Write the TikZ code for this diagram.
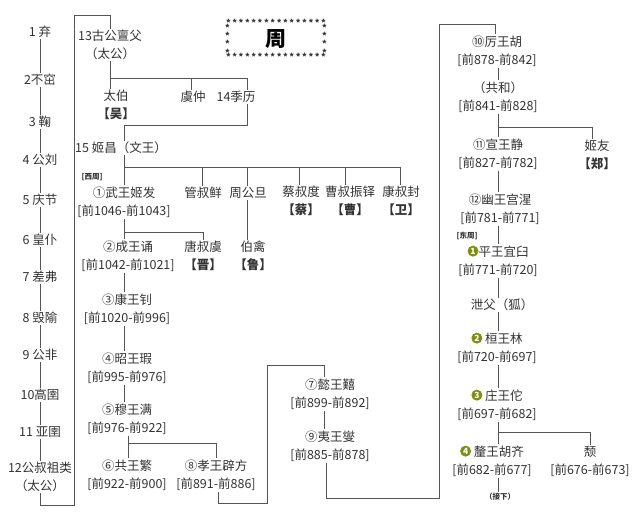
\documentclass[tikz,border=0pt]{standalone}
\usepackage{fontspec}
\setmainfont{Noto Sans CJK SC}
\definecolor{txt}{HTML}{333333}
\definecolor{ln}{HTML}{555555}
\definecolor{gcol}{HTML}{7F8F12}
\newcommand\nl{\\\relax}
\newcommand\gc[1]{\tikz[baseline=-0.75ex]\node[circle,fill=gcol,text=white,inner sep=0.6pt,minimum size=11pt,font=\bfseries\fontsize{8.5}{8.5}\selectfont]{#1};}
\newcommand\starrow{\hbox to 100pt{*\hfill*\hfill*\hfill*\hfill*\hfill*\hfill*\hfill*\hfill*\hfill*\hfill*\hfill*\hfill*\hfill*\hfill*\hfill*}}
\tikzset{t/.style={font=\fontsize{12.5}{18}\selectfont,text=txt,inner sep=1pt,align=center},
 sm/.style={font=\bfseries\fontsize{7.5}{9}\selectfont,text=txt,inner sep=1pt},
 star/.style={font=\bfseries\fontsize{9}{6.8}\selectfont,inner sep=0,text=black!80,align=center},
 c/.style={draw=ln,line width=0.9pt}}
\begin{document}
\begin{tikzpicture}[x=1pt,y=-1pt]
\useasboundingbox[fill=white] (0,0) rectangle (640,518);
% title
\node[font=\bfseries\fontsize{21}{21}\selectfont,text=black] (title) at (276,39) {周};
\node[star] (stop) at (276,23) {\starrow};
\node[star] (sbot) at (276,57) {\starrow};
\node[star] (sleft) at (227.5,40) {*\\*\\*\\*};
\node[star] (sright) at (324.5,40) {*\\*\\*\\*};
% left column
\node[t] (l1) at (40,32) {1 弃};
\node[t] (l2) at (40,80) {2不窋};
\node[t] (l3) at (40,122) {3 鞠};
\node[t] (l4) at (40,160) {4 公刘};
\node[t] (l5) at (40,200) {5 庆节};
\node[t] (l6) at (40,240) {6 皇仆};
\node[t] (l7) at (40,277) {7 差弗};
\node[t] (l8) at (40,318) {8 毁隃};
\node[t] (l9) at (40,355) {9 公非};
\node[t] (l10) at (40,395) {10高圉};
\node[t] (l11) at (40,432) {11 亚圉};
\node[t] (l12) at (40,477) {12公叔祖类\nl（太公）};
\foreach \a/\b in {l1/l2,l2/l3,l3/l4,l4/l5,l5/l6,l6/l7,l7/l8,l8/l9,l9/l10,l10/l11,l11/l12}
 \draw[c] (\a.south) -- (\b.north);
% 13
\node[t] (g13) at (110,45) {13古公亶父\nl（太公）};
\draw[c] (l12.south) -- (40,505) -- (74,505) -- (74,15) -| (g13.north);
\node[t] (taibo) at (116,105) {太伯\nl\bfseries【吴】};
\node[t] (yuzhong) at (193,97) {虞仲};
\node[t] (jili) at (236,97) {14季历};
\draw[c] (110,0 |- g13.south) -- (110,78) -- (247,78);
\draw[c] (110,78) -- (110,0 |- taibo.north);
\draw[c] (191,78) -- (191,0 |- yuzhong.north);
\draw[c] (247,78) -- (247,0 |- jili.north);
\node[t] (wen) at (121,148) {15 姬昌（文王）};
\draw[c] (247,0 |- jili.south) -- (247,125) -- (124,125) -- (124,0 |- wen.north);
% sons of Wen
\node[sm] (xizhou) at (92,177) {[西周]};
\node[t] (wu) at (124,202) {①武王姬发\nl[前1046-前1043]};
\node[t] (guan) at (203,193) {管叔鲜};
\node[t] (zhou) at (248,193) {周公旦};
\node[t] (cai) at (301,201) {蔡叔度\nl\bfseries【蔡】};
\node[t] (cao) at (350,201) {曹叔振铎\nl\bfseries【曹】};
\node[t] (kang) at (401,201) {康叔封\nl\bfseries【卫】};
\draw[c] (124,0 |- wen.south) -- (124,167) -- (400,167);
\draw[c] (124,167) -- (124,0 |- wu.north);
\foreach \n/\x in {guan/202,zhou/247,cai/299,cao/345,kang/400}
 \draw[c] (\x,167) -- (\x,0 |- \n.north);
\node[t] (boqin) at (253,256) {伯禽\nl\bfseries【鲁】};
\draw[c] (247,0 |- zhou.south) -- (247,0 |- boqin.north);
\node[t] (cheng) at (128,256) {②成王诵\nl[前1042-前1021]};
\node[t] (tang) at (203,256) {唐叔虞\nl\bfseries【晋】};
\draw[c] (124,0 |- wu.south) -- (124,232) -- (203,232) -- (203,0 |- tang.north);
\draw[c] (124,232) -- (124,0 |- cheng.north);
\node[t] (kangw) at (127,309) {③康王钊\nl[前1020-前996]};
\node[t] (zhao) at (127,368) {④昭王瑕\nl[前995-前976]};
\node[t] (mu) at (127,419) {⑤穆王满\nl[前976-前922]};
\draw[c] (124,0 |- cheng.south) -- (124,0 |- kangw.north);
\draw[c] (124,0 |- kangw.south) -- (124,0 |- zhao.north);
\draw[c] (124,0 |- zhao.south) -- (124,0 |- mu.north);
\node[t] (gong) at (127,475) {⑥共王繁\nl[前922-前900]};
\node[t] (xiao) at (216,475) {⑧孝王辟方\nl[前891-前886]};
\draw[c] (128,0 |- mu.south) -- (128,0 |- gong.north);
\draw[c] (128,443) -- (216,443) -- (216,0 |- xiao.north);
\node[t] (yi) at (330,394) {⑦懿王囏\nl[前899-前892]};
\node[t] (yiw) at (330,446) {⑨夷王燮\nl[前885-前878]};
\draw[c] (218,0 |- xiao.south) -- (218,503) -- (267,503) -- (267,365) -- (324,365) -- (324,0 |- yi.north);
\draw[c] (324,0 |- yi.south) -- (324,0 |- yiw.north);
% right column
\node[t] (li) at (497,51) {⑩厉王胡\nl[前878-前842]};
\draw[c] (326,0 |- yiw.south) -- (326,498) -- (439,498) -- (439,24) -- (495,24) -- (495,0 |- li.north);
\node[t] (gonghe) at (498,97) {（共和）\nl[前841-前828]};
\draw[c] (498,0 |- li.south) -- (498,0 |- gonghe.north);
\node[t] (xuan) at (498,154) {⑪宣王静\nl[前827-前782]};
\node[t] (jiyou) at (597,155) {姬友\nl\bfseries【郑】};
\draw[c] (498,0 |- gonghe.south) -- (498,0 |- xuan.north);
\draw[c] (498,127) -- (592,127) -- (592,0 |- jiyou.north);
\node[t] (you) at (500,209) {⑫幽王宫湦\nl[前781-前771]};
\draw[c] (498,0 |- xuan.south) -- (498,0 |- you.north);
\node[sm] (dongzhou) at (467,236) {[东周]};
\node[t] (ping) at (498,261) {\gc{1}平王宜臼\nl[前771-前720]};
\draw[c] (498,0 |- you.south) -- (498,0 |- ping.north);
\node[t] (xiefu) at (502,305) {泄父（狐）};
\draw[c] (498,0 |- ping.south) -- (498,0 |- xiefu.north);
\node[t] (huan) at (497,348) {\gc{2} 桓王林\nl[前720-前697]};
\draw[c] (498,0 |- xiefu.south) -- (498,0 |- huan.north);
\node[t] (zhuang) at (497,405) {\gc{3} 庄王佗\nl[前697-前682]};
\draw[c] (498,0 |- huan.south) -- (498,0 |- zhuang.north);
\node[t] (xi) at (492,461) {\gc{4} 釐王胡齐\nl[前682-前677]};
\node[t] (tui) at (590,461) {颓\nl[前676-前673]};
\draw[c] (498,0 |- zhuang.south) -- (498,0 |- xi.north);
\draw[c] (498,432) -- (590,432) -- (590,0 |- tui.north);
\node[sm] (jiexia) at (500,497) {（接下）};
\draw[c] (498,0 |- xi.south) -- (498,0 |- jiexia.north);
\end{tikzpicture}
\end{document}
